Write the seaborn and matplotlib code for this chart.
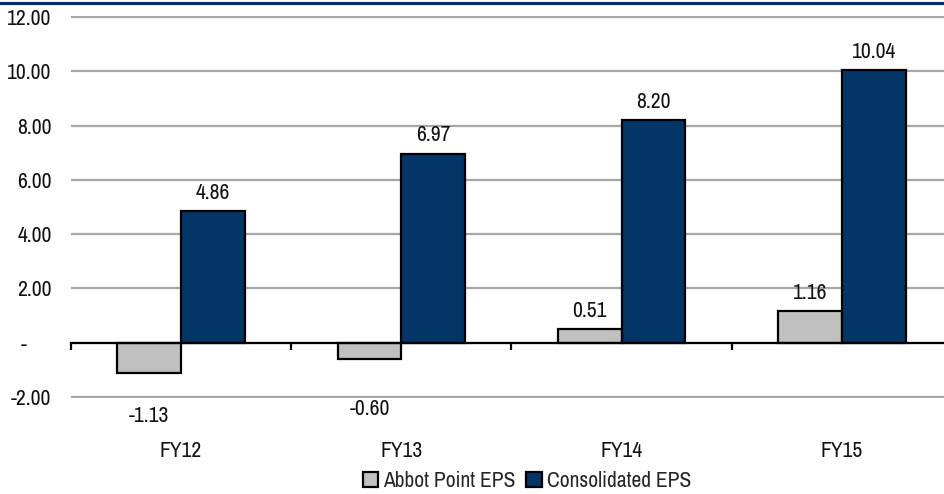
import matplotlib
matplotlib.use("Agg")
import matplotlib.pyplot as plt
from matplotlib.lines import Line2D
from matplotlib.ticker import FixedLocator, FuncFormatter
import pandas as pd
import seaborn as sns

periods = ["FY12", "FY13", "FY14", "FY15"]
abbot_eps = [-1.13, -0.60, 0.51, 1.16]
consolidated_eps = [4.86, 6.97, 8.20, 10.04]
series_names = ["Abbot Point EPS", "Consolidated EPS"]
y_ticks = [-2, 0, 2, 4, 6, 8, 10, 12]

df = pd.DataFrame({
    "period": periods * 2,
    "eps": abbot_eps + consolidated_eps,
    "series": [series_names[0]] * len(periods) + [series_names[1]] * len(periods),
})

sns.set_style("white")
plt.rcParams["font.family"] = ["Archivo Narrow", "Roboto Condensed", "DejaVu Sans"]

GREY = "#C0C0C0"
NAVY = "#033566"
FS = 15.5

fig = plt.figure(figsize=(9.45, 4.94), dpi=100)
ax = fig.add_axes([71 / 945, 1 - 398.4 / 494, 881 / 945, (398.4 - 15.6) / 494])

sns.barplot(data=df, x="period", y="eps", hue="series", order=periods,
            hue_order=series_names, palette=[GREY, NAVY], width=0.58,
            edgecolor="black", linewidth=1.6, saturation=1, ax=ax, zorder=3)

ax.set_xlim(-0.5, len(periods) - 0.5)
ax.set_ylim(-2.05, 12.05)

# horizontal gridlines
ax.yaxis.set_major_locator(FixedLocator(y_ticks))
ax.yaxis.set_major_formatter(FuncFormatter(
    lambda v, _: "-     " if abs(v) < 1e-9 else f"{v:.2f}"))
ax.grid(axis="y", color="#A6A6A6", linewidth=1.6)
ax.grid(axis="x", visible=False)
ax.set_axisbelow(True)
ax.tick_params(axis="y", length=0, pad=14, labelsize=FS, labelcolor="#111111")

# category axis sits on the zero line
for s in ["left", "right", "top"]:
    ax.spines[s].set_visible(False)
ax.spines["bottom"].set_position(("data", 0))
ax.spines["bottom"].set_color("black")
ax.spines["bottom"].set_linewidth(1.6)
ax.spines["bottom"].set_zorder(4)
ax.set_xticks(range(len(periods)))
ax.set_xticks([i - 0.5 for i in range(len(periods) + 1)], minor=True)
ax.tick_params(axis="x", which="major", length=0, pad=71, labelsize=FS,
               labelcolor="#111111")
ax.tick_params(axis="x", which="minor", length=5, width=1.6, color="black",
               direction="out", bottom=True)
ax.set_xlabel("")
ax.set_ylabel("")

# value labels
abbot_offsets = [-31, -36, 13, 13]
for i, v in enumerate(abbot_eps):
    ax.annotate(f"{v:.2f}", (i - 0.145, v), xytext=(0, abbot_offsets[i]),
                textcoords="offset points", ha="center", va="center",
                fontsize=FS, color="#111111", zorder=5)
for i, v in enumerate(consolidated_eps):
    ax.annotate(f"{v:.2f}", (i + 0.145, v), xytext=(0, 13),
                textcoords="offset points", ha="center", va="center",
                fontsize=FS, color="#111111", zorder=5)

# legend below the plot
handles, labels = ax.get_legend_handles_labels()
ax.legend(handles, labels, loc="center", bbox_to_anchor=(527 / 945, 1 - 481 / 494),
          bbox_transform=fig.transFigure, ncol=2, frameon=False, fontsize=FS,
          handlelength=0.7, handleheight=0.7, handletextpad=0.25,
          columnspacing=0.5, borderaxespad=0)

# rule across the top of the chart
fig.add_artist(Line2D([0, 1], [1 - 3.3 / 494] * 2, transform=fig.transFigure,
                      color="#003366", linewidth=2.3))

fig.savefig("out.png", dpi=100)
